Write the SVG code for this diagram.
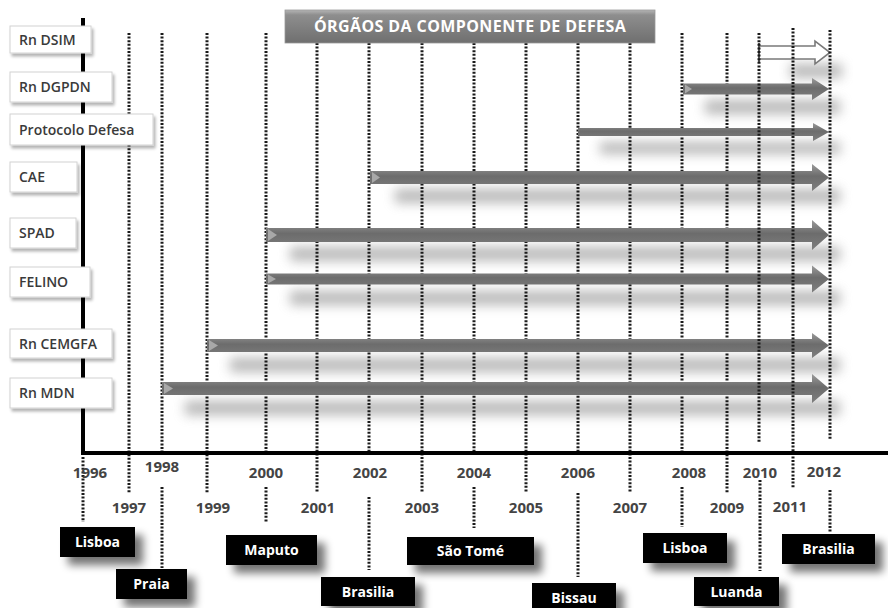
<svg xmlns="http://www.w3.org/2000/svg" width="888" height="608" viewBox="0 0 888 608">
<defs>
<linearGradient id="arrowGrad" x1="0" y1="0" x2="0" y2="1">
<stop offset="0" stop-color="#9a9a9a"/>
<stop offset="0.45" stop-color="#6c6c6c"/>
<stop offset="1" stop-color="#7e7e7e"/>
</linearGradient>
<linearGradient id="titleGrad" x1="0" y1="0" x2="0" y2="1">
<stop offset="0" stop-color="#b5b5b5"/>
<stop offset="0.15" stop-color="#8e8e8e"/>
<stop offset="1" stop-color="#6f6f6f"/>
</linearGradient>
<filter id="blurShadow" x="-20%" y="-100%" width="140%" height="300%">
<feGaussianBlur stdDeviation="6"/>
</filter>
<filter id="boxShadow" x="-20%" y="-40%" width="150%" height="200%">
<feGaussianBlur in="SourceAlpha" stdDeviation="4"/>
<feOffset dx="8" dy="8" result="o"/>
<feComponentTransfer><feFuncA type="linear" slope="0.55"/></feComponentTransfer>
<feMerge><feMergeNode/><feMergeNode in="SourceGraphic"/></feMerge>
</filter>
<filter id="labelShadow" x="-10%" y="-30%" width="130%" height="170%">
<feGaussianBlur in="SourceAlpha" stdDeviation="1.5"/>
<feOffset dx="2" dy="3" result="o"/>
<feComponentTransfer><feFuncA type="linear" slope="0.3"/></feComponentTransfer>
<feMerge><feMergeNode/><feMergeNode in="SourceGraphic"/></feMerge>
</filter>
</defs>
<style>
.dot{stroke:#1a1a1a;stroke-width:3;stroke-dasharray:2 1.6;fill:none}
.axis{stroke:#000;stroke-width:4;fill:none}
.arrow{fill:url(#arrowGrad)}
.notch{fill:#a8a8a8}
.shadow{fill:#8a8a8a;opacity:0.6;filter:url(#blurShadow)}
.lbox{fill:#fff;stroke:#d2d2d2;stroke-width:1;filter:url(#labelShadow)}
.ltxt{font-family:"Open Sans","Liberation Sans",sans-serif;font-size:14px;font-weight:600;fill:#3a3a3a}
.year{font-family:"Open Sans","Liberation Sans",sans-serif;font-size:15px;font-weight:700;fill:#444;text-anchor:middle}
.cbox{fill:#000;filter:url(#boxShadow)}
.ctxt{font-family:"Open Sans","Liberation Sans",sans-serif;font-size:14px;font-weight:700;fill:#fff;text-anchor:middle}
.title{font-family:"Open Sans","Liberation Sans",sans-serif;font-size:16px;font-weight:700;fill:#fff;text-anchor:middle}
</style>
<rect width="888" height="608" fill="#fff"/>

<g id="connectors">
<!-- arrow shadows -->
<rect class="shadow" x="790" y="64" width="52" height="14"/>
<rect class="shadow" x="705" y="100" width="135" height="14"/>
<rect class="shadow" x="600" y="142" width="240" height="12"/>
<rect class="shadow" x="395" y="189" width="445" height="14"/>
<rect class="shadow" x="290" y="247" width="550" height="14"/>
<rect class="shadow" x="290" y="291" width="550" height="14"/>
<rect class="shadow" x="230" y="358" width="610" height="14"/>
<rect class="shadow" x="185" y="401" width="655" height="14"/>

<!-- vertical dotted year lines -->
<line class="dot" x1="129" y1="33" x2="129" y2="493"/>
<line class="dot" x1="162" y1="33" x2="162" y2="452"/>
<line class="dot" x1="207" y1="33" x2="207" y2="493"/>
<line class="dot" x1="266" y1="33" x2="266" y2="452"/>
<line class="dot" x1="317" y1="43" x2="317" y2="493"/>
<line class="dot" x1="369" y1="43" x2="369" y2="452"/>
<line class="dot" x1="422" y1="43" x2="422" y2="493"/>
<line class="dot" x1="474" y1="43" x2="474" y2="452"/>
<line class="dot" x1="526" y1="43" x2="526" y2="493"/>
<line class="dot" x1="578" y1="43" x2="578" y2="452"/>
<line class="dot" x1="630" y1="43" x2="630" y2="493"/>
<line class="dot" x1="682" y1="33" x2="682" y2="452"/>
<line class="dot" x1="727" y1="33" x2="727" y2="493"/>

<!-- arrows -->
<g id="arrow-dgpdn"><path class="arrow" d="M683,83.5 H812 V78 L829,89 L812,100 V94.5 H683 Z"/><path class="notch" d="M685,84.5 L692,89 L685,93.5 Z"/></g>
<g id="arrow-protocolo"><path class="arrow" d="M578,128 H813 V123 L829,132 L813,141 V136 H578 Z"/></g>
<g id="arrow-cae"><path class="arrow" d="M370,171 H812 V164 L829,177.5 L812,191 V184 H370 Z"/><path class="notch" d="M372,172 L380,177.5 L372,183 Z"/></g>
<g id="arrow-spad"><path class="arrow" d="M266,228 H812 V220 L829,235 L812,250 V242 H266 Z"/><path class="notch" d="M268,229 L277,235 L268,241 Z"/></g>
<g id="arrow-felino"><path class="arrow" d="M266,273.5 H812 V265.5 L829,279 L812,292.5 V284.5 H266 Z"/><path class="notch" d="M268,274.5 L276,279 L268,283.5 Z"/></g>
<g id="arrow-cemgfa"><path class="arrow" d="M207,339 H812 V333 L829,345.5 L812,358 V352 H207 Z"/><path class="notch" d="M209,340 L218,345.5 L209,351 Z"/></g>
<g id="arrow-mdn"><path class="arrow" d="M162,382 H812 V374 L829,388.5 L812,403 V395 H162 Z"/><path class="notch" d="M164,383 L173,388.5 L164,394 Z"/></g>
<g id="arrow-dsim"><path d="M759,46 H815 V41 L830,52.5 L815,64 V59 H759 Z" fill="#fff" stroke="#7a7a7a" stroke-width="1.6"/><line x1="759" y1="43" x2="759" y2="62" stroke="#555" stroke-width="2"/></g>

<!-- dotted lines drawn over arrows (right side) -->
<line class="dot" x1="759" y1="33" x2="759" y2="443"/>
<line class="dot" x1="793" y1="28" x2="793" y2="488"/>
<line class="dot" x1="830" y1="30" x2="830" y2="440"/>

<!-- below-axis dotted connectors to cities -->
<line class="dot" x1="83" y1="457" x2="83" y2="522"/>
<line class="dot" x1="162" y1="487" x2="162" y2="568"/>
<line class="dot" x1="266" y1="487" x2="266" y2="522"/>
<line class="dot" x1="369" y1="497" x2="369" y2="570"/>
<line class="dot" x1="474" y1="487" x2="474" y2="528"/>
<line class="dot" x1="578" y1="493" x2="578" y2="577"/>
<line class="dot" x1="682" y1="487" x2="682" y2="527"/>
<line class="dot" x1="760" y1="480" x2="760" y2="571"/>
<line class="dot" x1="830" y1="490" x2="830" y2="532"/>

<!-- axes -->
<polyline class="axis" points="83,18 83,453 888,453"/>
</g>

<g id="title">
<rect x="285" y="10" width="370" height="33" fill="url(#titleGrad)" stroke="#9a9a9a" stroke-width="0.8"/>
<text class="title" x="470" y="32" letter-spacing="0.4">ÓRGÃOS DA COMPONENTE DE DEFESA</text>
</g>

<g id="label-dsim"><rect class="lbox" x="10" y="26" width="81" height="27"/><text class="ltxt" x="19" y="44.5">Rn DSIM</text></g>
<g id="label-dgpdn"><rect class="lbox" x="10" y="72" width="102" height="30"/><text class="ltxt" x="19" y="92">Rn DGPDN</text></g>
<g id="label-protocolo"><rect class="lbox" x="10" y="114" width="143" height="31"/><text class="ltxt" x="19" y="134.5">Protocolo Defesa</text></g>
<g id="label-cae"><rect class="lbox" x="10" y="162" width="67" height="30"/><text class="ltxt" x="19" y="182">CAE</text></g>
<g id="label-spad"><rect class="lbox" x="10" y="218" width="66" height="30"/><text class="ltxt" x="19" y="238">SPAD</text></g>
<g id="label-felino"><rect class="lbox" x="10" y="267" width="80" height="30"/><text class="ltxt" x="19" y="287">FELINO</text></g>
<g id="label-cemgfa"><rect class="lbox" x="10" y="329" width="102" height="29"/><text class="ltxt" x="19" y="348.5">Rn CEMGFA</text></g>
<g id="label-mdn"><rect class="lbox" x="10" y="378" width="102" height="30"/><text class="ltxt" x="19" y="398">Rn MDN</text></g>

<g id="years">
<text class="year" x="90" y="478">1996</text>
<text class="year" x="129" y="513">1997</text>
<text class="year" x="162" y="472">1998</text>
<text class="year" x="213" y="513">1999</text>
<text class="year" x="266" y="478">2000</text>
<text class="year" x="318" y="513">2001</text>
<text class="year" x="370" y="478">2002</text>
<text class="year" x="422" y="513">2003</text>
<text class="year" x="474" y="478">2004</text>
<text class="year" x="526" y="513">2005</text>
<text class="year" x="578" y="478">2006</text>
<text class="year" x="630" y="513">2007</text>
<text class="year" x="689" y="478">2008</text>
<text class="year" x="727" y="513">2009</text>
<text class="year" x="760" y="478">2010</text>
<text class="year" x="790" y="512">2011</text>
<text class="year" x="824" y="477">2012</text>
</g>

<g id="city-lisboa1"><rect class="cbox" x="60" y="527" width="75" height="30"/><text class="ctxt" x="97.5" y="547">Lisboa</text></g>
<g id="city-praia"><rect class="cbox" x="116" y="569" width="71" height="30"/><text class="ctxt" x="151.5" y="589">Praia</text></g>
<g id="city-maputo"><rect class="cbox" x="226" y="535" width="91" height="30"/><text class="ctxt" x="271.5" y="555">Maputo</text></g>
<g id="city-brasilia1"><rect class="cbox" x="321" y="577" width="94" height="29"/><text class="ctxt" x="368" y="597">Brasilia</text></g>
<g id="city-saotome"><rect class="cbox" x="407" y="537" width="127" height="28"/><text class="ctxt" x="470.5" y="556">São Tomé</text></g>
<g id="city-bissau"><rect class="cbox" x="532" y="583" width="84" height="30"/><text class="ctxt" x="574" y="603">Bissau</text></g>
<g id="city-lisboa2"><rect class="cbox" x="643" y="533" width="84" height="30"/><text class="ctxt" x="685" y="553">Lisboa</text></g>
<g id="city-luanda"><rect class="cbox" x="694" y="577" width="85" height="29"/><text class="ctxt" x="736.5" y="597">Luanda</text></g>
<g id="city-brasilia2"><rect class="cbox" x="782" y="534" width="93" height="30"/><text class="ctxt" x="828.5" y="554">Brasilia</text></g>
</svg>
